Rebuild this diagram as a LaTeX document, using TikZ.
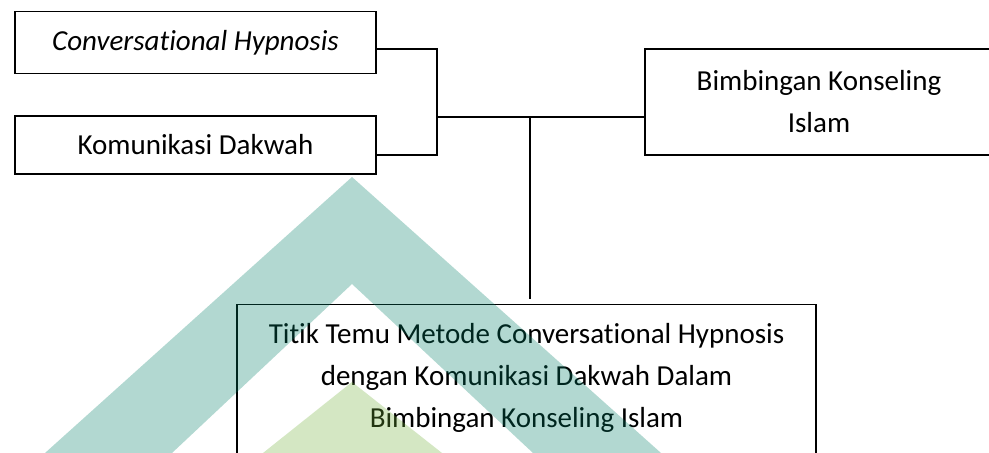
\documentclass[tikz,border=0pt]{standalone}
\usepackage{fontspec}
\setmainfont{Carlito}[RawFeature={-liga;-dlig}]
\definecolor{wmteal}{RGB}{0,128,105}
\definecolor{wmgreen}{RGB}{115,178,58}
\begin{document}
\begin{tikzpicture}[x=0.5pt,y=-0.5pt,
  box/.style={rectangle,draw,line width=0.75pt,minimum width=180.5pt,inner sep=0pt,align=center,font=\fontsize{14.5}{21}\selectfont},
  link/.style={line width=0.6pt}]
\clip (0,0) rectangle (989,453);
\fill[white] (0,0) rectangle (989,453);

% Source nodes (left)
\node[box,minimum height=30.8pt] (hypnosis) at (195.5,42.5) {\itshape Conversational Hypnosis};
\node[box,minimum height=29pt] (dakwah) at (195.5,145) {Komunikasi Dakwah};

% Target node (right)
\node[box,minimum width=174pt,minimum height=53pt] (bki) at (819,102) {Bimbingan Konseling\\Islam};

% Meeting node (bottom)
\node[box,anchor=north,minimum width=289.5pt,inner ysep=9.5pt,text depth=60pt] (meet) at (526.5,304) {Titik Temu Metode Conversational Hypnosis\\dengan Komunikasi Dakwah Dalam\\Bimbingan Konseling Islam};

% Junctions
\coordinate (split) at (437,117);
\coordinate (tee) at (530,117);

% Connections
\draw[link] ([yshift=-3.25pt]hypnosis.east) -| (split) |- ([yshift=-5pt]dakwah.east);
\draw[link] (split) -- ([yshift=-7.5pt]bki.west);
\draw[link] (tee) -- ([xshift=1.75pt,yshift=2.5pt]meet.north);

% Watermark
\fill[wmteal,opacity=0.3] (352,177) -- (45,453) -- (172,453) -- (352,284) -- (533,453) -- (661,453) -- cycle;
\fill[wmgreen,opacity=0.3] (352,382) -- (263,453) -- (442,453) -- cycle;

\end{tikzpicture}
\end{document}
